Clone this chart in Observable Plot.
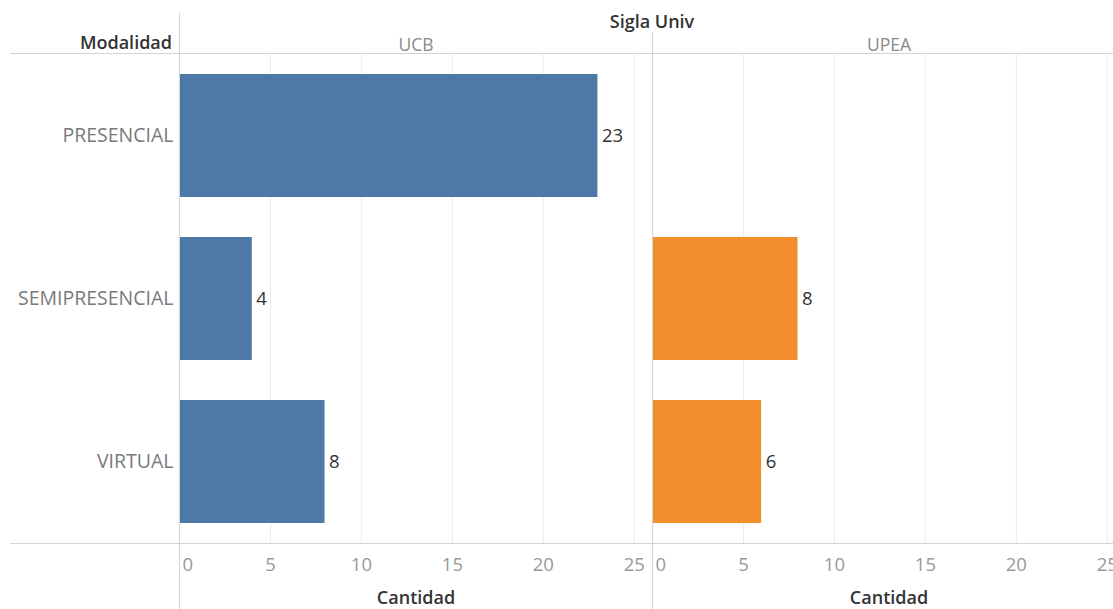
<!DOCTYPE html>
<html>
<head>
<meta charset="utf-8">
<script src="https://cdn.jsdelivr.net/npm/d3@7"></script>
<script src="https://cdn.jsdelivr.net/npm/@observablehq/plot@0.6"></script>
<style>
  html, body { margin: 0; padding: 0; background: #fff; overflow: hidden; width: 1113px; height: 609px; }
  #chart { position: relative; width: 1113px; height: 609px; overflow: hidden; }
  #chart svg { max-width: none !important; }
</style>
</head>
<body>
<div id="chart"></div>
<script>
const modalidades = ["PRESENCIAL", "SEMIPRESENCIAL", "VIRTUAL"];
const universidades = ["UCB", "UPEA"];
const valoresUCB = [23, 4, 8];
const valoresUPEA = [null, 8, 6];
const colores = ["#4e79a7", "#f28e2b"];
const ticksX = [0, 5, 10, 15, 20, 25];

const data = [];
modalidades.forEach((m, i) => {
  if (valoresUCB[i] != null) data.push({univ: "UCB", modalidad: m, cantidad: valoresUCB[i]});
  if (valoresUPEA[i] != null) data.push({univ: "UPEA", modalidad: m, cantidad: valoresUPEA[i]});
});
const facets = universidades.map(u => ({univ: u}));

const FONT = "'Open Sans', 'Noto Sans', sans-serif";
const W = 1125, H = 609, ML = 179, MT = 53, MB = 66;

const chart = Plot.plot({
  width: W,
  height: H,
  marginLeft: ML,
  marginRight: 0,
  marginTop: MT,
  marginBottom: MB,
  style: {fontFamily: FONT, fontSize: "18px", background: "#fff", overflow: "visible", maxWidth: "none"},
  fx: {domain: universidades, padding: 0, label: null},
  x: {domain: [0, 26], label: null},
  y: {domain: modalidades, padding: 0, label: null},
  color: {domain: universidades, range: colores},
  marks: [
    Plot.gridX(ticksX.slice(1), {stroke: "#ededed", strokeOpacity: 1, strokeWidth: 1}),
    Plot.barX(data, {fx: "univ", y: "modalidad", x: "cantidad", fill: "univ", insetTop: 20, insetBottom: 20}),
    Plot.text(data, {fx: "univ", y: "modalidad", x: "cantidad", text: d => String(d.cantidad), textAnchor: "start", dx: 4, fill: "#333", fontSize: 18.5}),
    Plot.axisY({tickSize: 0, tickPadding: 6, fill: "#7a7a7a", fontSize: 19.5, label: null}),
    Plot.axisFx({anchor: "top", tickSize: 0, tickPadding: 3, fill: "#8a8a8a", fontSize: 17.5, label: null}),
    Plot.axisX({ticks: [0], anchor: "bottom", tickSize: 0, tickPadding: 14, textAnchor: "start", dx: 3, fill: "#999", fontSize: 18.5, label: null}),
    Plot.axisX({ticks: ticksX.slice(1), anchor: "bottom", tickSize: 0, tickPadding: 14, fill: "#999", fontSize: 18.5, label: null}),
    Plot.text(facets, {fx: "univ", text: () => "Cantidad", frameAnchor: "bottom", dy: 60, fill: "#333", fontSize: 18, fontWeight: 600})
  ]
});

document.getElementById("chart").appendChild(chart);

const svg = d3.select(chart);
svg.style("max-width", "none");
svg.selectAll('g[aria-label="fx-axis tick label"]').attr("font-size", 17.5);

// Tableau-like frame: headers and separators
const deco = svg.append("g").attr("aria-label", "frame");
const lineColor = "#d4d4d4";
deco.append("line").attr("x1", 10).attr("x2", W).attr("y1", MT + 0.5).attr("y2", MT + 0.5).attr("stroke", lineColor);
deco.append("line").attr("x1", 10).attr("x2", W).attr("y1", H - MB + 0.5).attr("y2", H - MB + 0.5).attr("stroke", lineColor);
deco.append("line").attr("x1", ML + 0.5).attr("x2", ML + 0.5).attr("y1", 13).attr("y2", H).attr("stroke", lineColor);
const mid = ML + (W - ML) / 2;
deco.append("line").attr("x1", mid + 0.5).attr("x2", mid + 0.5).attr("y1", 32).attr("y2", H).attr("stroke", lineColor);
deco.append("text").attr("x", ML - 7).attr("y", 49).attr("text-anchor", "end")
  .attr("font-size", 18).attr("font-weight", 600).attr("fill", "#333").text("Modalidad");
deco.append("text").attr("x", mid).attr("y", 28).attr("text-anchor", "middle")
  .attr("font-size", 18).attr("font-weight", 600).attr("fill", "#333").text("Sigla Univ");
</script>
</body>
</html>
